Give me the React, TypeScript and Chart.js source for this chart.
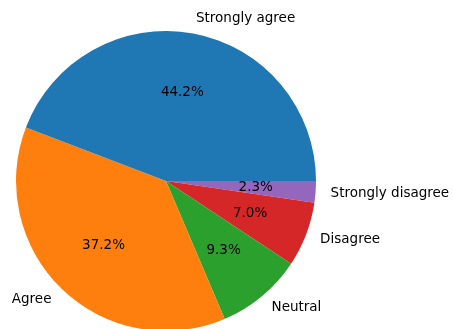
import React, { useEffect, useRef } from "react";
import { Chart, registerables } from "chart.js";

Chart.register(...registerables);

// Order as in the source (matplotlib counter-clockwise from 3 o'clock)
const categories = ["Strongly agree", "Agree", "Neutral", "Disagree", "Strongly disagree"];
const counts = [19, 16, 4, 3, 1];
const colors = ["#1f77b4", "#ff7f0e", "#2ca02c", "#d62728", "#9467bd"];

// Chart.js draws clockwise, so reverse to get the same visual order
const revLabels = [...categories].reverse();
const revCounts = [...counts].reverse();
const revColors = [...colors].reverse();

const FONT = "13.5px 'DejaVu Sans', sans-serif";

const labelPlugin = {
  id: "pieLabels",
  afterDatasetsDraw(chart: any) {
    const ctx = chart.ctx;
    const meta = chart.getDatasetMeta(0);
    const data = chart.data.datasets[0].data as number[];
    const total = data.reduce((a, b) => a + b, 0);
    ctx.save();
    ctx.font = FONT;
    ctx.fillStyle = "#000";
    ctx.textBaseline = "middle";
    meta.data.forEach((arc: any, i: number) => {
      const { x, y, startAngle, endAngle, outerRadius } = arc.getProps(
        ["x", "y", "startAngle", "endAngle", "outerRadius"],
        true
      );
      const mid = (startAngle + endAngle) / 2;
      const c = Math.cos(mid);
      const s = Math.sin(mid);
      // outer label
      const lx = x + c * outerRadius * 1.1;
      const ly = y + s * outerRadius * 1.1;
      ctx.textAlign = c >= 0 ? "left" : "right";
      ctx.fillText(chart.data.labels[i], lx, ly);
      // percentage
      const px = x + c * outerRadius * 0.6;
      const py = y + s * outerRadius * 0.6;
      ctx.textAlign = "center";
      ctx.fillText(((data[i] / total) * 100).toFixed(1) + "%", px, py);
    });
    ctx.restore();
  },
};

export default function App() {
  const ref = useRef<HTMLCanvasElement>(null);
  useEffect(() => {
    document.body.style.margin = "0";
    document.body.style.overflow = "hidden";
    const chart = new Chart(ref.current!, {
      type: "pie",
      data: {
        labels: revLabels,
        datasets: [
          {
            data: revCounts,
            backgroundColor: revColors,
            borderWidth: 0,
          },
        ],
      },
      options: {
        responsive: false,
        animation: false,
        rotation: 90,
        layout: { padding: { left: 16, right: 137, top: 31, bottom: 9 } },
        plugins: { legend: { display: false }, tooltip: { enabled: false }, title: { display: false } },
      },
      plugins: [labelPlugin],
    });
    return () => chart.destroy();
  }, []);
  return (
    <div style={{ position: "absolute", left: 0, top: 0, width: 453, height: 329, overflow: "hidden", background: "#fff" }}>
      <canvas ref={ref} width={453} height={340} style={{ display: "block" }} />
    </div>
  );
}
